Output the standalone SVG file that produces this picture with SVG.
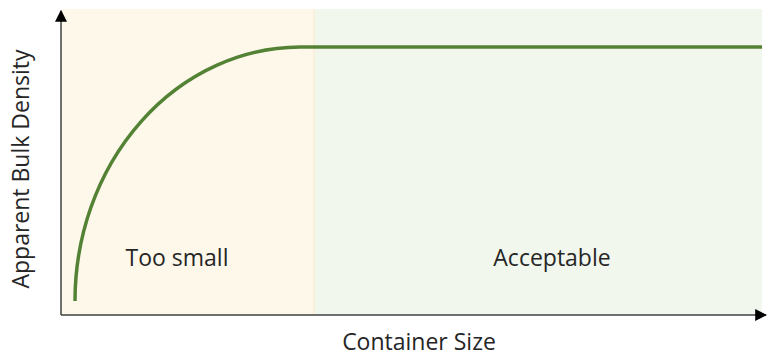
<svg xmlns="http://www.w3.org/2000/svg" width="767" height="356" viewBox="0 0 767 356">
<style>
.lbl{font-family:"Open Sans","Liberation Sans",sans-serif;font-size:23px;fill:#262626;text-anchor:middle}
.axis{stroke:#404040;stroke-width:1.5;fill:none}
</style>
<defs>
<marker id="arr" viewBox="0 0 10 10" refX="9" refY="5" markerWidth="12" markerHeight="14" markerUnits="userSpaceOnUse" orient="auto">
<path d="M0,0 L10,5 L0,10 Z" fill="#000"/>
</marker>
</defs>
<rect width="767" height="356" fill="#fff"/>
<g id="region-small">
<rect x="62" y="9" width="252" height="306" fill="#FEF8EB"/>
<text class="lbl" x="177" y="266">Too small</text>
</g>
<g id="region-acceptable">
<rect x="314" y="9" width="448" height="306" fill="#F2F7EE"/>
<line x1="314" y1="9" x2="314" y2="315" stroke="#FBEEDA" stroke-width="2"/>
<text class="lbl" x="552" y="266">Acceptable</text>
</g>
<g id="curve">
<path d="M75,301 A226,254 0 0 1 300,47 L762,47" fill="none" stroke="#548235" stroke-width="3.5"/>
</g>
<g id="connectors">
<line class="axis" x1="61" y1="315" x2="61" y2="11" marker-end="url(#arr)"/>
<line class="axis" x1="61" y1="315" x2="766" y2="315" marker-end="url(#arr)"/>
</g>
<g id="axis-labels">
<text class="lbl" x="419" y="350">Container Size</text>
<text class="lbl" transform="translate(29,169) rotate(-90)">Apparent Bulk Density</text>
</g>
</svg>
